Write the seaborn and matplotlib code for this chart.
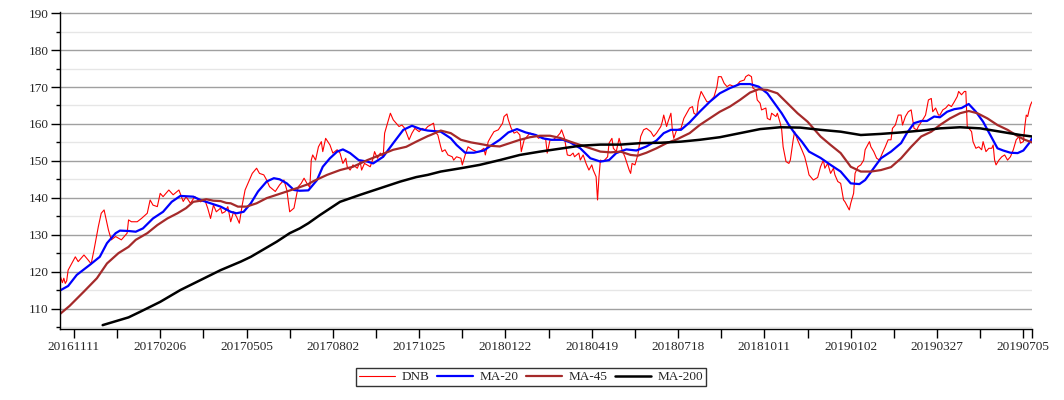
import numpy as np
import pandas as pd
import matplotlib
matplotlib.use("Agg")
import matplotlib.pyplot as plt
from matplotlib.ticker import FixedLocator, MultipleLocator
import seaborn as sns

# --- data: trading-day index and values ---
tick_days = [10, 70, 130, 190, 250, 310, 370, 430, 490, 550, 610, 670]
tick_labels = ['20161111', '20170206', '20170505', '20170802', '20171025', '20180122',
               '20180419', '20180718', '20181011', '20190102', '20190327', '20190705']

dnb_day = [0, 2, 3, 4, 5, 6, 11, 13, 17, 20, 22, 24, 27, 29, 31, 34, 36, 39, 43, 47, 48, 50, 54, 57,
           61, 63, 65, 68, 70, 72, 76, 79, 83, 86, 88, 91, 94, 98, 101, 103, 105, 107, 109, 112,
           113, 115, 117, 119, 121, 123, 125, 127, 129, 131, 134, 137, 139, 142, 144, 146, 150,
           153, 156, 158, 160, 163, 165, 166, 168, 170, 172, 174, 175, 176, 178, 180, 182, 183,
           185, 188, 190, 193, 195, 197, 199, 200, 202, 204, 207, 209, 210, 212, 216, 218, 219,
           221, 223, 225, 226, 228, 230, 232, 234, 236, 238, 240, 243, 245, 247, 250, 252, 254,
           256, 260, 261, 263, 265, 266, 268, 270, 273, 274, 276, 279, 280, 282, 284, 287, 290,
           292, 295, 296, 298, 300, 302, 305, 308, 309, 311, 312, 314, 316, 318, 320, 321, 323,
           325, 327, 331, 333, 335, 338, 339, 341, 343, 346, 348, 349, 351, 353, 355, 357, 358,
           361, 362, 364, 366, 368, 370, 371, 373, 374, 375, 376, 378, 381, 382, 384, 385, 387,
           389, 391, 393, 396, 397, 398, 400, 402, 404, 406, 408, 411, 413, 415, 418, 419, 420,
           422, 423, 425, 426, 427, 429, 432, 434, 436, 438, 440, 441, 443, 444, 446, 448, 450,
           452, 455, 457, 458, 460, 462, 464, 466, 469, 471, 473, 476, 477, 479, 481, 482, 484,
           485, 487, 488, 491, 492, 494, 495, 498, 499, 501, 502, 503, 505, 507, 508, 510, 511,
           513, 514, 516, 518, 520, 521, 524, 527, 529, 531, 532, 534, 536, 538, 539, 541, 543,
           545, 546, 549, 550, 552, 553, 555, 557, 559, 560, 563, 564, 566, 568, 570, 572, 574,
           576, 578, 579, 581, 583, 585, 586, 588, 590, 592, 594, 596, 597, 600, 602, 604, 606,
           607, 609, 611, 612, 614, 616, 618, 620, 622, 624, 625, 627, 629, 630, 631, 633, 634,
           635, 637, 639, 641, 642, 644, 646, 648, 649, 650, 651, 653, 655, 657, 659, 661, 663,
           665, 667, 668, 670, 671, 672, 673, 674, 675, 676]
dnb = [119.4, 117.0, 118.2, 116.8, 117.5, 120.4, 124.0, 122.7, 124.5, 123.1, 122.1, 125.9, 132.2,
       135.8, 136.7, 131.3, 128.6, 129.5, 128.6, 130.4, 134.0, 133.5, 133.5, 134.4, 135.8, 139.4,
       138.0, 137.6, 141.2, 140.3, 142.1, 140.8, 142.1, 139.0, 140.3, 138.5, 140.3, 138.9, 139.4,
       137.2, 134.4, 138.0, 136.2, 137.2, 135.8, 136.2, 137.6, 133.5, 136.2, 134.9, 133.1, 138.0,
       142.1, 143.9, 146.6, 148.0, 146.6, 146.2, 144.8, 143.0, 141.7, 143.5, 144.8, 142.1, 136.2,
       137.2, 141.2, 143.0, 143.9, 145.3, 143.9, 142.8, 150.2, 151.6, 150.2, 153.8, 155.2, 152.5,
       156.1, 154.3, 152.1, 153.0, 152.1, 149.3, 150.7, 148.4, 147.5, 148.9, 148.0, 149.8, 147.5,
       149.3, 148.4, 150.7, 152.5, 150.7, 152.1, 151.1, 157.5, 160.2, 162.9, 161.1, 160.2, 159.3,
       159.7, 158.8, 155.7, 157.5, 158.8, 157.9, 158.8, 158.4, 159.3, 160.2, 157.9, 157.0, 153.8,
       152.5, 153.0, 151.6, 151.1, 150.2, 151.1, 150.7, 148.9, 151.6, 153.8, 153.0, 152.5, 152.5,
       153.4, 151.6, 155.2, 156.6, 157.9, 158.4, 160.2, 162.0, 162.7, 161.1, 158.8, 157.5, 157.9,
       157.0, 152.5, 155.7, 156.6, 157.5, 157.0, 156.1, 156.6, 155.7, 152.1, 155.7, 155.7, 156.6,
       157.5, 158.4, 156.2, 151.6, 151.4, 152.1, 151.1, 152.1, 150.2, 151.6, 149.3, 147.5, 148.9,
       147.5, 145.7, 139.4, 145.7, 150.2, 149.8, 151.1, 154.8, 156.1, 153.4, 152.5, 156.1, 153.0,
       151.1, 147.5, 146.6, 149.3, 148.9, 151.6, 156.6, 158.4, 158.8, 157.9, 156.6, 157.5, 159.3,
       160.6, 162.4, 159.3, 160.6, 162.9, 158.4, 156.1, 158.4, 158.8, 161.5, 162.9, 164.3, 164.7,
       162.9, 162.4, 166.0, 168.8, 167.4, 166.0, 166.0, 167.4, 170.1, 172.8, 172.8, 171.0, 170.1,
       170.6, 170.1, 170.6, 171.5, 171.9, 172.8, 173.3, 172.8, 169.7, 169.2, 166.5, 165.6, 163.8,
       164.3, 161.5, 161.1, 162.9, 162.0, 162.9, 160.2, 158.4, 153.8, 149.8, 149.3, 150.2, 155.7,
       157.9, 155.7, 154.8, 153.0, 151.1, 148.0, 146.2, 144.8, 145.5, 148.4, 150.2, 148.0, 149.3,
       146.6, 148.0, 146.2, 144.4, 143.9, 139.4, 138.9, 136.7, 138.5, 141.2, 146.6, 148.4, 148.9,
       150.2, 153.0, 155.2, 153.8, 152.5, 150.7, 150.2, 152.1, 153.8, 155.7, 155.7, 158.8, 159.7,
       162.4, 162.4, 159.7, 162.0, 163.3, 163.8, 158.8, 158.4, 159.3, 161.1, 162.4, 166.5, 166.9,
       163.3, 164.3, 162.4, 162.4, 163.8, 164.3, 165.2, 164.7, 166.0, 167.4, 168.8, 167.9, 168.8,
       168.8, 159.3, 158.4, 157.9, 155.2, 153.4, 153.8, 153.0, 155.2, 152.5, 153.4, 153.4, 154.3,
       150.2, 148.9, 150.2, 151.1, 151.6, 150.2, 151.1, 153.0, 155.7, 156.6, 154.8, 155.2, 159.3,
       162.4, 162.0, 163.8, 165.2, 166.0]

ma20_day = [0, 6, 12, 21, 28, 33, 39, 42, 48, 53, 58, 65, 72, 78, 84, 93, 98, 105, 112, 119, 123,
            128, 133, 138, 144, 149, 153, 158, 163, 167, 173, 179, 183, 188, 193, 197, 202, 208,
            214, 218, 225, 232, 239, 245, 251, 256, 265, 272, 276, 282, 288, 295, 299, 306, 312,
            318, 324, 331, 336, 342, 350, 355, 362, 369, 376, 382, 387, 394, 401, 408, 415, 420,
            425, 432, 438, 445, 452, 459, 466, 473, 480, 486, 492, 497, 502, 507, 511, 516, 521,
            529, 536, 543, 550, 556, 560, 565, 571, 578, 585, 589, 594, 599, 603, 608, 612, 617,
            622, 627, 632, 637, 642, 647, 652, 656, 661, 666, 670, 674, 676]
ma20 = [114.8, 116.1, 119.1, 121.8, 124.0, 127.7, 130.4, 131.1, 131.0, 130.8, 131.7, 134.4, 136.2,
        138.9, 140.5, 140.3, 139.4, 138.5, 137.6, 136.2, 135.8, 136.2, 138.5, 141.7, 144.4, 145.3,
        145.0, 143.9, 142.1, 141.9, 142.0, 144.8, 148.4, 150.7, 152.5, 153.1, 152.1, 150.2, 149.8,
        149.3, 151.1, 154.8, 158.4, 159.5, 158.6, 158.2, 157.9, 156.1, 154.3, 152.2, 152.2, 152.8,
        153.9, 155.7, 157.7, 158.6, 157.7, 157.0, 156.1, 155.7, 155.7, 155.0, 153.4, 150.7, 149.8,
        150.2, 152.1, 153.1, 152.8, 153.9, 155.5, 157.5, 158.4, 158.4, 160.4, 163.3, 166.0, 168.3,
        169.7, 170.8, 170.8, 170.1, 168.3, 165.6, 162.9, 159.7, 157.5, 155.2, 152.5, 150.8, 148.9,
        147.1, 143.9, 143.7, 144.8, 147.5, 150.7, 152.5, 154.8, 157.5, 160.2, 160.8, 160.8, 162.0,
        161.8, 163.3, 164.0, 164.3, 165.4, 163.3, 160.6, 157.0, 153.4, 152.8, 152.2, 152.1, 152.8,
        154.8, 156.1]

ma45_day = [0, 7, 17, 26, 33, 41, 48, 53, 61, 68, 75, 82, 88, 93, 98, 102, 107, 112, 116, 119, 124,
            130, 137, 144, 151, 158, 165, 173, 176, 186, 195, 204, 214, 223, 232, 241, 248, 256,
            258, 265, 272, 279, 286, 292, 299, 306, 313, 320, 327, 334, 341, 348, 355, 362, 369,
            376, 383, 390, 397, 402, 408, 415, 422, 429, 438, 445, 452, 459, 466, 473, 480, 486,
            492, 499, 506, 513, 520, 529, 536, 543, 550, 557, 564, 571, 578, 585, 592, 599, 606,
            612, 619, 626, 632, 638, 645, 652, 659, 666, 671, 676]
ma45 = [108.4, 110.7, 114.6, 118.2, 122.2, 125.0, 126.7, 128.6, 130.4, 132.6, 134.4, 135.8, 137.2,
        138.9, 139.2, 139.6, 139.2, 139.1, 138.6, 138.5, 137.6, 137.6, 138.5, 139.9, 140.8, 141.7,
        142.6, 143.7, 144.4, 146.2, 147.5, 148.4, 150.2, 151.6, 153.0, 153.8, 155.2, 156.7, 157.0,
        158.2, 157.5, 155.7, 155.0, 154.6, 154.1, 153.9, 154.8, 155.7, 156.4, 156.8, 156.8, 156.2,
        155.2, 154.3, 153.4, 152.5, 152.3, 152.5, 151.6, 151.4, 152.2, 153.4, 154.8, 155.8, 157.5,
        159.7, 161.5, 163.3, 164.7, 166.5, 168.5, 169.4, 169.2, 168.3, 165.6, 162.9, 160.6, 156.6,
        154.3, 152.1, 148.4, 147.1, 147.1, 147.5, 148.3, 150.7, 153.8, 156.6, 157.9, 159.7, 161.5,
        162.9, 163.5, 162.9, 161.5, 159.7, 158.4, 156.7, 155.7, 155.0]

ma200_day = [30, 48, 56, 70, 84, 98, 112, 126, 133, 151, 160, 167, 173, 181, 195, 209, 223, 237,
             248, 256, 265, 279, 292, 306, 320, 334, 348, 355, 362, 376, 390, 404, 418, 432, 445,
             459, 473, 487, 501, 515, 529, 543, 557, 571, 585, 599, 612, 626, 640, 654, 668, 676]
ma200 = [105.5, 107.6, 109.1, 111.8, 115.0, 117.7, 120.4, 122.7, 124.0, 128.1, 130.4, 131.7, 133.1,
         135.3, 138.9, 140.8, 142.6, 144.4, 145.6, 146.2, 147.1, 148.0, 148.9, 150.2, 151.6, 152.5,
         153.3, 153.7, 154.1, 154.4, 154.4, 154.8, 154.9, 155.2, 155.7, 156.4, 157.5, 158.6, 159.1,
         159.0, 158.4, 157.9, 157.0, 157.3, 157.7, 158.2, 158.8, 159.1, 158.8, 157.9, 157.0, 156.6]

# --- style ---
sns.set_style("white")
plt.rcParams['font.family'] = ['Liberation Serif', 'DejaVu Serif']
plt.rcParams['font.size'] = 9.5

fig = plt.figure(figsize=(10.64, 4.0), dpi=100)
ax = fig.add_axes([59.5 / 1064, 1 - 329 / 400, (1032 - 59.5) / 1064, (329 - 11.7) / 400])

series = [
    ('DNB', dnb_day, dnb, '#ff0000', 0.8),
    ('MA-20', ma20_day, ma20, '#0000ff', 1.6),
    ('MA-45', ma45_day, ma45, '#a52a2a', 1.6),
    ('MA-200', ma200_day, ma200, '#000000', 1.8),
]
for name, days, vals, col, lw in series:
    df = pd.DataFrame({'day': days, 'value': vals})
    sns.lineplot(data=df, x='day', y='value', color=col, linewidth=lw, label=name, ax=ax)

ax.set_xlim(0, 676)
ax.set_ylim(104.45, 190.4)
ax.set_xlabel('')
ax.set_ylabel('')

# y grid: dark at tens, light at fives
ax.yaxis.set_major_locator(MultipleLocator(10))
ax.yaxis.set_minor_locator(MultipleLocator(5))
ax.grid(axis='y', which='major', color='#a0a0a0', linewidth=1.0)
ax.grid(axis='y', which='minor', color='#e6e6e6', linewidth=1.0)
ax.grid(axis='x', visible=False)
ax.set_axisbelow(True)

ax.set_xticks(tick_days)
ax.set_xticklabels(tick_labels)
ax.xaxis.set_minor_locator(FixedLocator([d + 30 for d in tick_days[:-1]] + [676]))

for s in ['top', 'right']:
    ax.spines[s].set_visible(False)
for s in ['left', 'bottom']:
    ax.spines[s].set_color('black')
    ax.spines[s].set_linewidth(1.0)

ax.tick_params(axis='x', which='both', direction='out', length=6.5, width=1, color='black',
               labelsize=9.5, pad=2, bottom=True)
ax.tick_params(axis='y', which='major', direction='out', length=6.5, width=1, color='black',
               labelsize=9.5, pad=1.5, left=True)
ax.tick_params(axis='y', which='minor', direction='out', length=3, width=1, color='black', left=True)

ax.get_legend().remove()
handles, labels = ax.get_legend_handles_labels()
leg = fig.legend(handles, labels, loc='center', bbox_to_anchor=(531 / 1064, 1 - 377 / 400),
                 ncol=4, frameon=True, fancybox=False, edgecolor='black', fontsize=9.5,
                 handlelength=2.7, columnspacing=0.6, handletextpad=0.5, borderpad=0.25)
leg.get_frame().set_linewidth(1.0)

fig.savefig('out.png', dpi=100)
